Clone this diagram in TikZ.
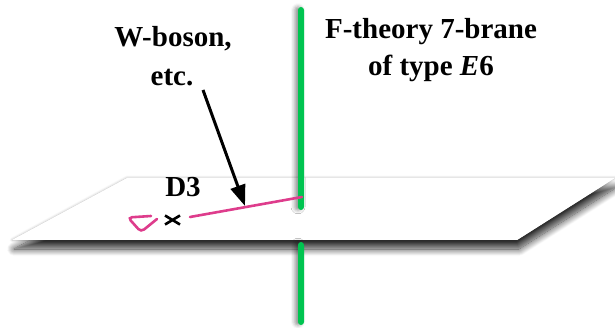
\documentclass[tikz,border=0pt]{standalone}
\usepackage{fontspec}
\setmainfont{Liberation Serif}
\usetikzlibrary{shadows.blur,arrows.meta}
\definecolor{brgreen}{RGB}{0,196,80}
\definecolor{wpink}{RGB}{222,60,140}
\begin{document}
\begin{tikzpicture}[x=1pt,y=-1pt,
  lbl/.style={font=\fontsize{29}{36}\selectfont\bfseries, inner sep=0pt, anchor=base},
  brane/.style={fill=brgreen, rounded corners=3pt,
     blur shadow={shadow xshift=-3pt, shadow yshift=0pt, shadow blur radius=4pt, shadow opacity=45}},
  planeshadow/.style={fill=white,
     blur shadow={shadow xshift=2pt, shadow yshift=-9pt, shadow blur radius=7pt, shadow blur steps=14, shadow opacity=80}},
  planestyle/.style={fill=white,
     blur shadow={shadow xshift=0pt, shadow yshift=0pt, shadow blur radius=2.5pt, shadow opacity=30}},
  string/.style={draw=wpink, line width=2.6pt, line cap=round},
  pointer/.style={draw=black, line width=3pt, -{Triangle[length=21pt,width=15pt]}}]
\useasboundingbox (0,0) rectangle (615,328);
% D3 plane
\path[planeshadow] (127,178) -- (615,178) -- (517,240) -- (12,240) -- cycle;
\path[planestyle] (127,178) -- (615,178) -- (517,240) -- (12,240) -- cycle;
% 7-brane
\path[brane] (298,7) rectangle (304,210);
\path[brane] (298,242) rectangle (304,325);
% labels
\node[lbl] (wb1) at (173,47) {W-boson,};
\node[lbl] (wb2) at (172,86) {etc.};
\node[lbl] (ft1) at (431,39) {F-theory 7-brane};
\node[lbl] (ft2) at (431,76) {of type \textit{E}6};
\node[lbl] (d3) at (183,197) {D3};
% D3 mark and string
\coordinate (xm) at (172.5,220);
\coordinate (sa) at (190,217);
\coordinate (sb) at (302,197);
\draw[line width=2.6pt] ([shift={(-7.5,-4.5)}]xm) -- ([shift={(7.5,4.5)}]xm)
                        ([shift={(-7.5,4.5)}]xm) -- ([shift={(7.5,-4.5)}]xm);
\draw[string] (sa) -- (sb);
\coordinate (l1) at (151,216);
\coordinate (l2) at (128,217.5);
\coordinate (l3) at (141,232);
\coordinate (l4) at (157,219);
\draw[string, rounded corners=4pt] (l1) -- (l2) -- (l3) -- (l4);
% pointer
\coordinate (pa) at (203,90);
\coordinate (pb) at (245,206);
\draw[pointer] (pa) -- (pb);
\end{tikzpicture}
\end{document}
